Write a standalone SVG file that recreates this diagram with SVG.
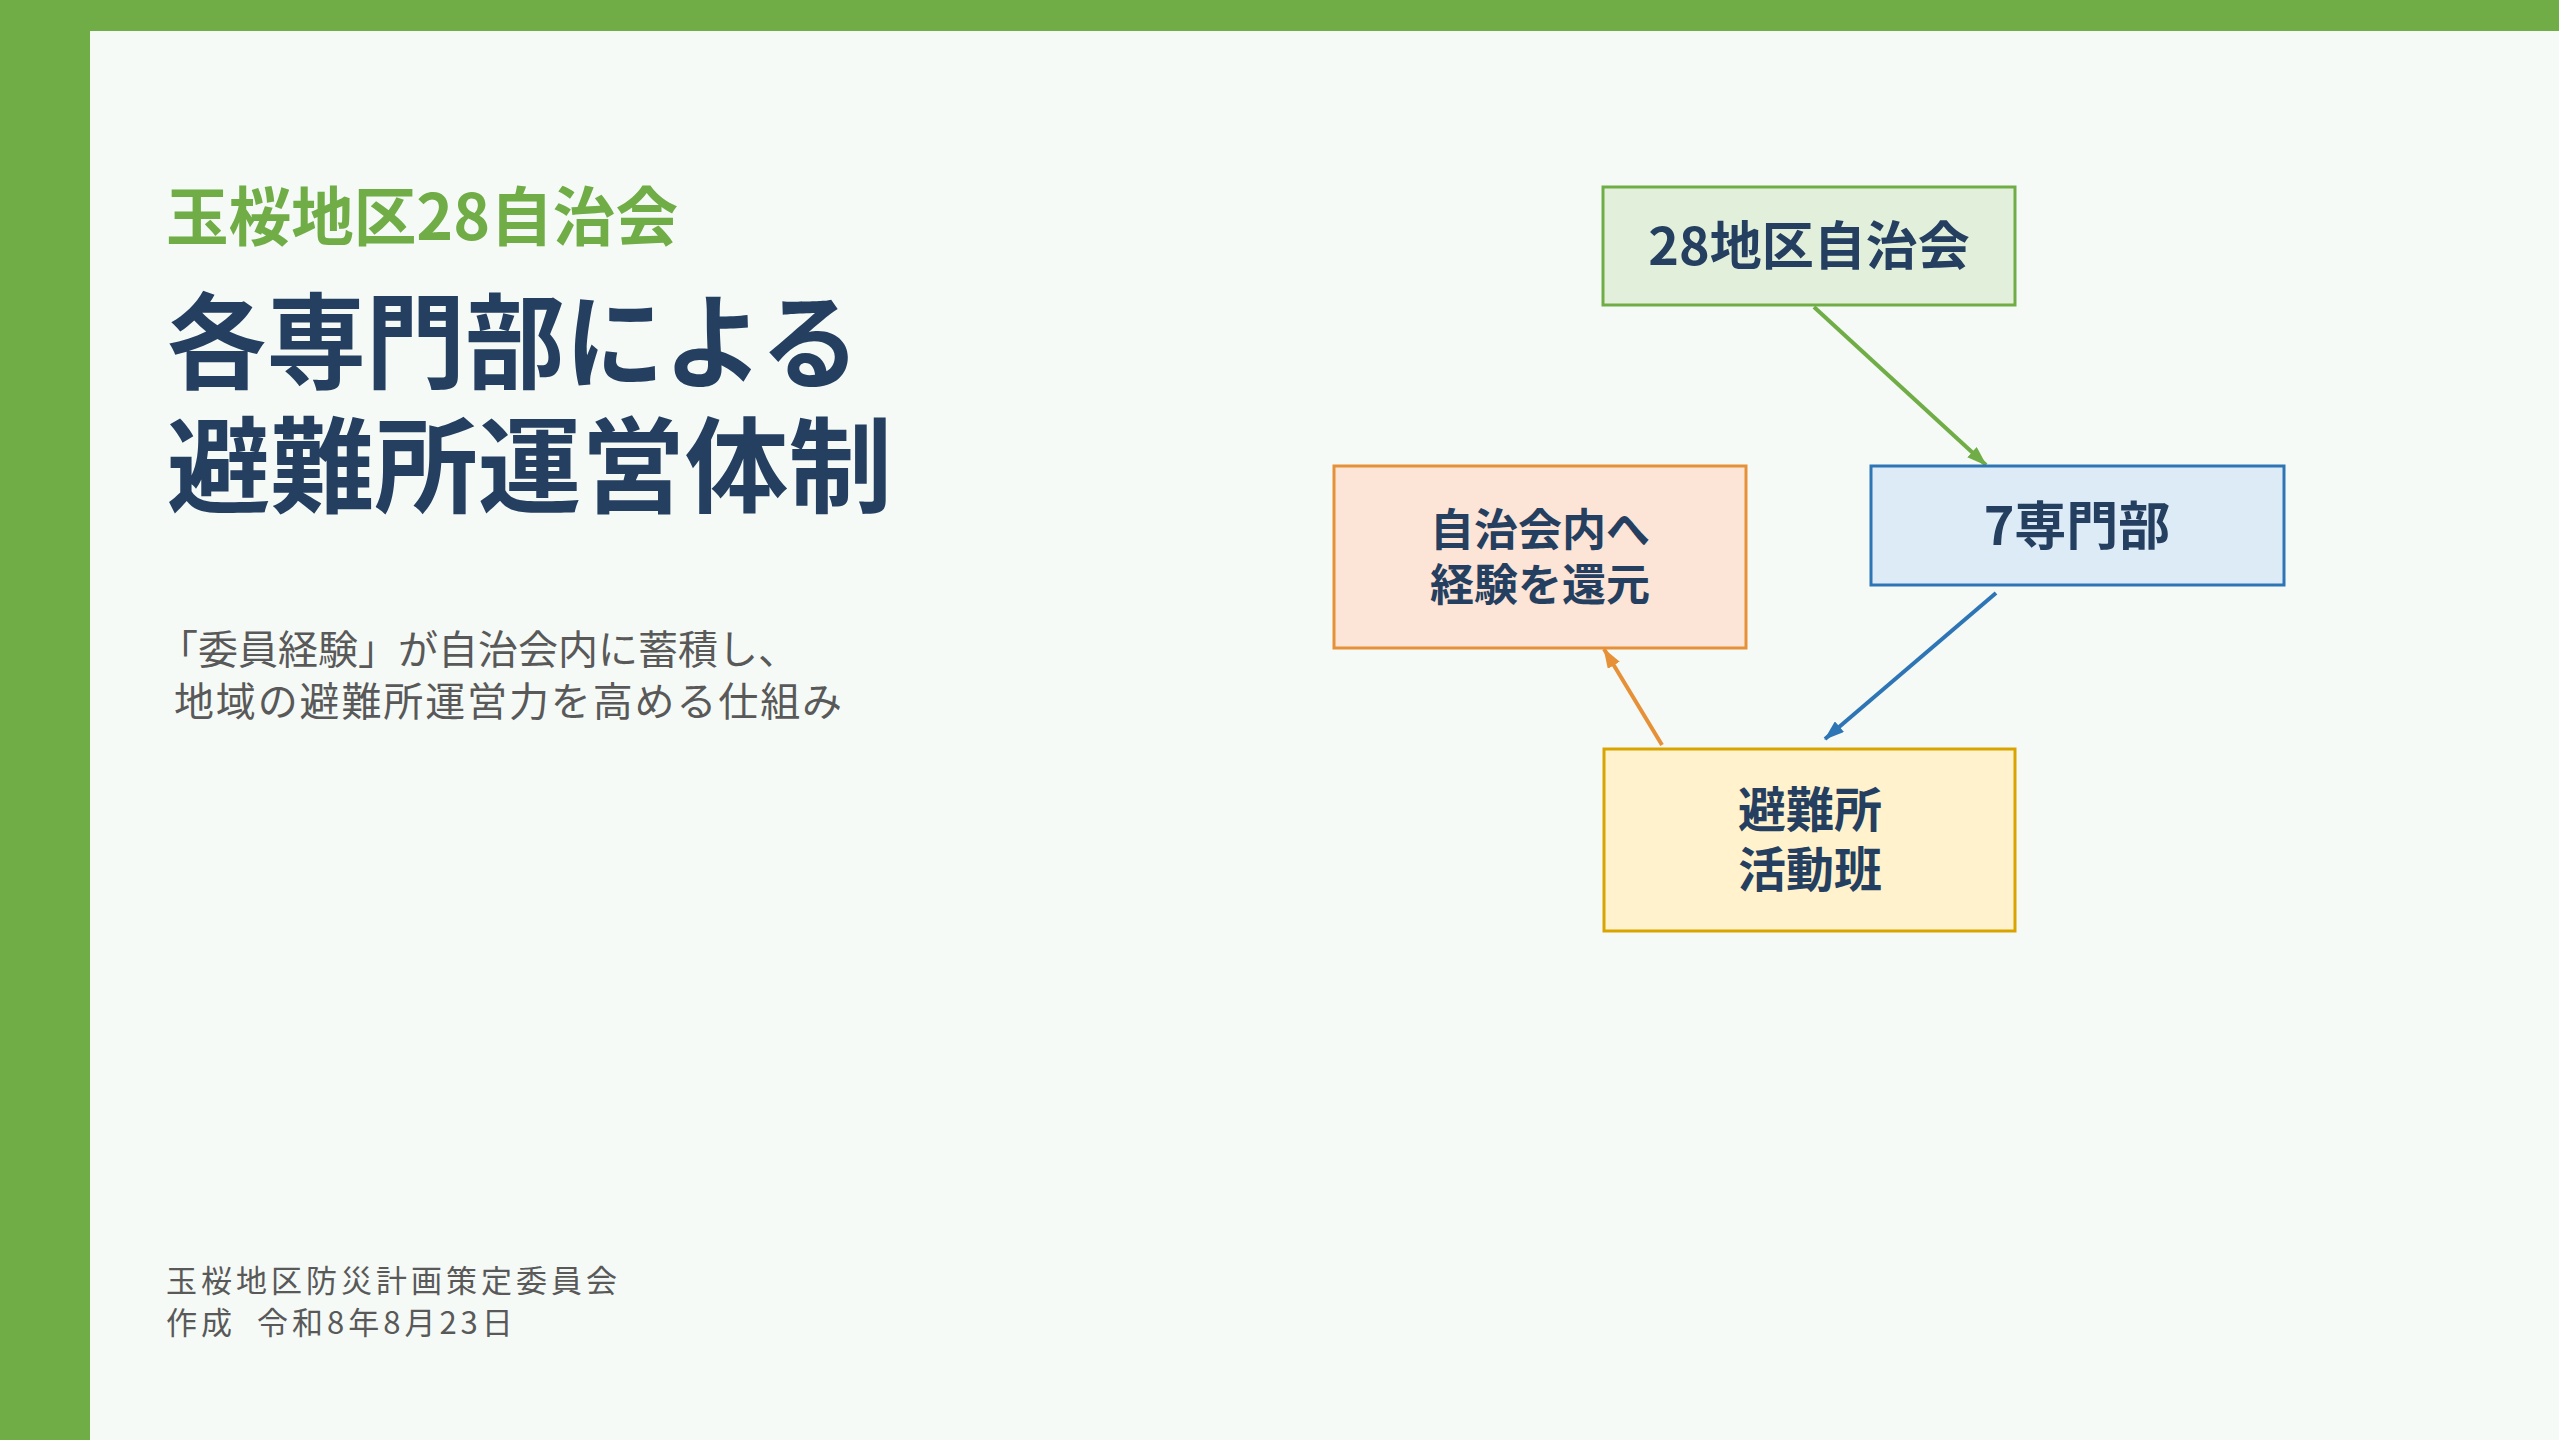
<svg xmlns="http://www.w3.org/2000/svg" width="2559" height="1440" viewBox="0 0 2559 1440">
<defs>
<style>
.bg{fill:#f5faf6}
.band{fill:#70ad47}
.t{font-family:"Noto Sans CJK JP","Noto Sans CJK SC",sans-serif}
.title{font-size:104px;font-weight:700;fill:#243f60}
.sub{font-size:64px;font-weight:700;fill:#70ad47}
.desc{font-size:40px;font-weight:400;fill:#595959}
.foot{font-size:31px;font-weight:400;fill:#595959;letter-spacing:4px}
.nt{font-weight:700;fill:#243f60;text-anchor:middle}
.box{stroke-width:3}
.edge{fill:none;stroke-width:4}
</style>
<marker id="ag" viewBox="0 0 20 14" refX="19" refY="7" markerWidth="20" markerHeight="14" markerUnits="userSpaceOnUse" orient="auto"><path d="M0,0 L20,7 L0,14 z" fill="#70ad47"/></marker>
<marker id="ab" viewBox="0 0 20 14" refX="19" refY="7" markerWidth="20" markerHeight="14" markerUnits="userSpaceOnUse" orient="auto"><path d="M0,0 L20,7 L0,14 z" fill="#2e75b6"/></marker>
<marker id="ao" viewBox="0 0 20 14" refX="19" refY="7" markerWidth="20" markerHeight="14" markerUnits="userSpaceOnUse" orient="auto"><path d="M0,0 L20,7 L0,14 z" fill="#e69138"/></marker>
</defs>
<rect class="bg" x="0" y="0" width="2559" height="1440"/>
<rect class="band" x="0" y="0" width="2559" height="31"/>
<rect class="band" x="0" y="0" width="90" height="1440"/>

<g id="heading">
<text class="t sub" x="166" y="240" textLength="512" lengthAdjust="spacingAndGlyphs">玉桜地区28自治会</text>
<text class="t title" x="167" y="381" textLength="693" lengthAdjust="spacingAndGlyphs">各専門部による</text>
<text class="t title" x="167" y="505" textLength="725" lengthAdjust="spacingAndGlyphs">避難所運営体制</text>
</g>
<g id="description">
<text class="t desc" x="158" y="664">「委員経験」が自治会内に蓄積し、</text>
<text class="t desc" x="174" y="716" textLength="668">地域の避難所運営力を高める仕組み</text>
</g>
<g id="footer">
<text class="t foot" x="166" y="1292">玉桜地区防災計画策定委員会</text>
<text class="t foot" x="166" y="1334">作成　<tspan x="257">令和8年8月23日</tspan></text>
</g>

<g id="connectors">
<line class="edge" x1="1814" y1="307" x2="1986" y2="465" stroke="#70ad47" marker-end="url(#ag)"/>
<line class="edge" x1="1996" y1="593" x2="1825" y2="739" stroke="#2e75b6" marker-end="url(#ab)"/>
<line class="edge" x1="1662" y1="745" x2="1604" y2="649" stroke="#e69138" marker-end="url(#ao)"/>
</g>

<g id="node-jichikai">
<rect class="box" x="1603" y="187" width="412" height="118" fill="#e2efda" stroke="#70ad47"/>
<text class="t nt" x="1809" y="265" font-size="52">28地区自治会</text>
</g>
<g id="node-senmonbu">
<rect class="box" x="1871" y="466" width="413" height="119" fill="#ddebf7" stroke="#2e75b6"/>
<text class="t nt" x="2077" y="545" font-size="52">7専門部</text>
</g>
<g id="node-kangen">
<rect class="box" x="1334" y="466" width="412" height="182" fill="#fce4d6" stroke="#e69138"/>
<text class="t nt" x="1540" y="546" font-size="44">自治会内へ</text>
<text class="t nt" x="1540" y="601" font-size="44">経験を還元</text>
</g>
<g id="node-katsudohan">
<rect class="box" x="1604" y="749" width="411" height="182" fill="#fff2cc" stroke="#d9a400"/>
<text class="t nt" x="1810" y="827" font-size="48">避難所</text>
<text class="t nt" x="1810" y="887" font-size="48">活動班</text>
</g>
</svg>
